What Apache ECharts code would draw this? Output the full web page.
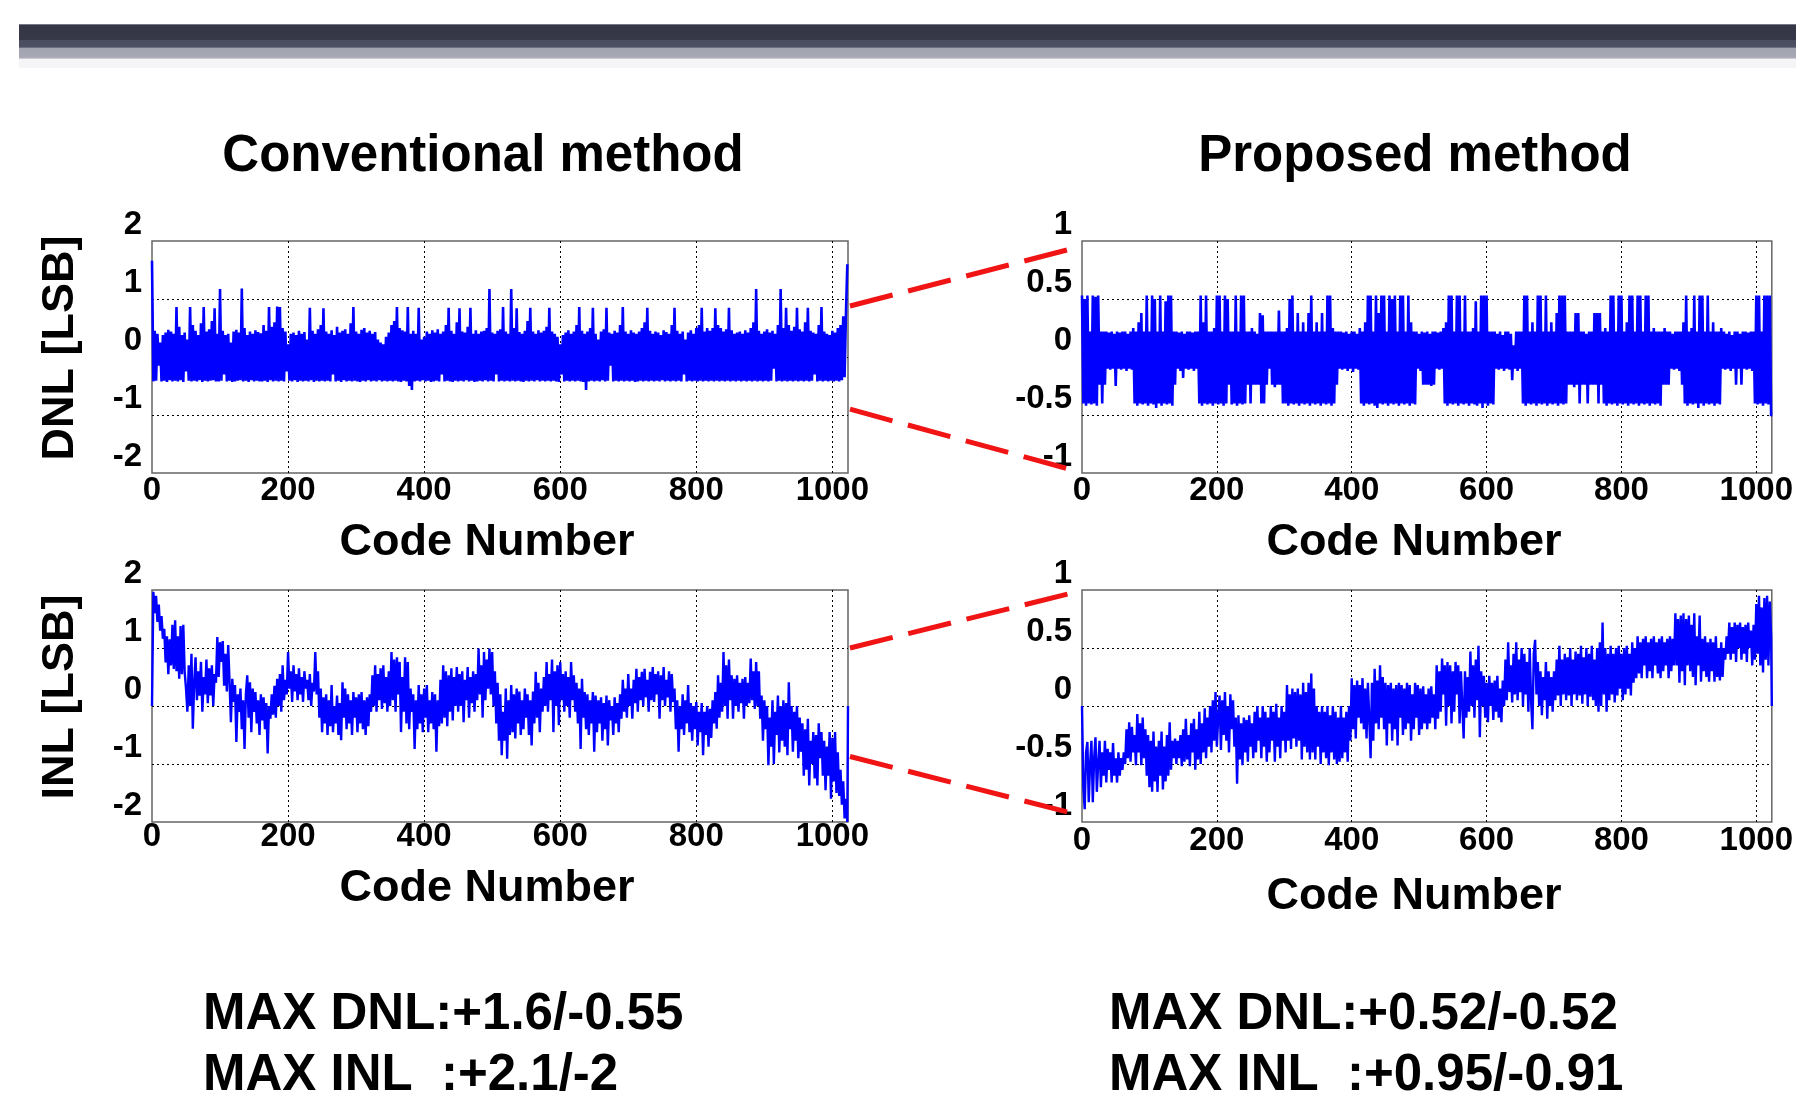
<!DOCTYPE html>
<html><head><meta charset="utf-8">
<script src="https://cdn.jsdelivr.net/npm/echarts@6/dist/echarts.min.js"></script>
<style>html,body{margin:0;padding:0;background:#fff}#c{width:1796px;height:1100px}</style>
</head><body><div id="c"></div>
<script>
// ---------- DATA ----------
const titles = ['Conventional method', 'Proposed method'];
const xName = 'Code Number';
const yNames = ['DNL [LSB]', 'INL [LSB]'];
const summaryLeft = ['MAX DNL:+1.6/-0.55', 'MAX INL  :+2.1/-2'];
const summaryRight = ['MAX DNL:+0.52/-0.52', 'MAX INL  :+0.95/-0.91'];
const codeMax = 1023;
const xTickStep = 200;
const DNL_STEP = 2;   // one value every 2 codes
const INL_STEP = 2;   // one value every 2 codes (last value = code 1023)

// conventional DNL (LSB), codes 0,2,...,1022
const dnlConventional = [
1.66,-0.42,0.45,-0.41,0.40,-0.15,0.25,-0.42,0.38,-0.41,0.42,-0.43,0.47,-0.40,0.44,-0.42,
0.40,-0.41,0.86,-0.42,0.52,-0.40,0.38,-0.43,0.42,-0.25,0.30,-0.41,0.86,-0.42,0.55,-0.41,
0.45,-0.42,0.38,-0.40,0.58,-0.43,0.86,-0.41,0.44,-0.42,0.48,-0.41,0.62,-0.40,0.84,-0.42,
0.40,-0.42,1.17,-0.41,0.45,-0.30,0.38,-0.42,0.40,-0.41,0.25,-0.43,0.44,-0.42,0.47,-0.41,
0.42,-0.40,1.18,-0.42,0.50,-0.41,0.38,-0.43,0.44,-0.40,0.40,-0.42,0.46,-0.41,0.43,-0.42,
0.41,-0.42,0.55,-0.41,0.45,-0.43,0.86,-0.40,0.52,-0.42,0.60,-0.41,0.87,-0.42,0.86,-0.41,
0.50,-0.42,0.44,-0.25,0.22,-0.41,0.40,-0.42,0.42,-0.40,0.38,-0.43,0.45,-0.41,0.40,-0.42,
0.43,-0.41,0.30,-0.42,0.85,-0.40,0.45,-0.43,0.40,-0.41,0.48,-0.42,0.55,-0.41,0.84,-0.42,
0.44,-0.41,0.40,-0.42,0.46,-0.30,0.38,-0.42,0.52,-0.41,0.42,-0.43,0.45,-0.40,0.48,-0.42,
0.40,-0.41,0.58,-0.42,0.86,-0.41,0.44,-0.42,0.40,-0.43,0.47,-0.41,0.50,-0.42,0.42,-0.40,
0.45,-0.42,0.40,-0.41,0.43,-0.42,0.30,-0.40,0.25,-0.42,0.22,-0.41,0.35,-0.42,0.42,-0.41,
0.55,-0.42,0.62,-0.41,0.86,-0.42,0.50,-0.43,0.46,-0.41,0.44,-0.42,0.86,-0.50,0.40,-0.57,
0.45,-0.42,0.40,-0.41,0.85,-0.42,0.30,-0.40,0.35,-0.42,0.44,-0.41,0.40,-0.43,0.46,-0.42,
0.42,-0.41,0.48,-0.42,0.40,-0.30,0.44,-0.42,0.55,-0.41,0.85,-0.42,0.45,-0.43,0.40,-0.41,
0.60,-0.42,0.84,-0.41,0.44,-0.42,0.42,-0.40,0.52,-0.42,0.85,-0.41,0.40,-0.43,0.46,-0.42,
0.40,-0.41,0.44,-0.42,0.45,-0.40,0.50,-0.42,1.17,-0.41,0.42,-0.42,0.40,-0.30,0.45,-0.42,
0.48,-0.41,0.86,-0.42,0.44,-0.41,0.40,-0.42,1.17,-0.41,0.50,-0.42,0.84,-0.41,0.43,-0.42,
0.40,-0.43,0.45,-0.41,0.62,-0.42,0.85,-0.41,0.44,-0.42,0.40,-0.40,0.46,-0.42,0.42,-0.41,
0.45,-0.42,0.52,-0.41,0.85,-0.42,0.44,-0.41,0.40,-0.42,0.35,-0.43,0.22,-0.30,0.38,-0.42,
0.42,-0.41,0.46,-0.42,0.40,-0.41,0.44,-0.42,0.55,-0.41,0.86,-0.42,0.45,-0.43,0.40,-0.57,
0.44,-0.42,0.50,-0.41,0.85,-0.42,0.40,-0.41,0.30,-0.42,0.44,-0.40,0.48,-0.42,0.85,-0.41,
0.42,-0.15,0.40,-0.42,0.45,-0.41,0.42,-0.42,0.55,-0.41,0.86,-0.42,0.44,-0.41,0.40,-0.42,
0.46,-0.41,0.42,-0.43,0.40,-0.42,0.44,-0.41,0.50,-0.42,0.60,-0.41,0.85,-0.42,0.45,-0.41,
0.40,-0.42,0.44,-0.41,0.42,-0.42,0.38,-0.40,0.46,-0.42,0.43,-0.41,0.40,-0.42,0.55,-0.41,
0.85,-0.42,0.45,-0.41,0.40,-0.42,0.44,-0.30,0.30,-0.42,0.42,-0.41,0.46,-0.42,0.40,-0.41,
0.50,-0.42,0.55,-0.41,0.85,-0.42,0.44,-0.41,0.50,-0.42,0.45,-0.41,0.50,-0.42,0.84,-0.41,
0.55,-0.42,0.50,-0.41,0.44,-0.42,0.48,-0.41,0.85,-0.42,0.46,-0.41,0.40,-0.42,0.42,-0.41,
0.44,-0.42,0.40,-0.41,0.46,-0.42,0.42,-0.41,0.50,-0.42,0.60,-0.41,1.17,-0.42,0.45,-0.41,
0.40,-0.42,0.44,-0.41,0.48,-0.42,0.42,-0.41,0.45,-0.20,0.40,-0.42,0.55,-0.41,1.17,-0.42,
0.50,-0.41,0.85,-0.42,0.55,-0.41,0.45,-0.42,0.52,-0.41,0.85,-0.42,0.48,-0.41,0.44,-0.42,
0.60,-0.41,0.85,-0.42,0.45,-0.41,0.42,-0.30,0.40,-0.42,0.55,-0.41,0.86,-0.42,0.44,-0.41,
0.40,-0.42,0.38,-0.41,0.45,-0.42,0.42,-0.41,0.50,-0.42,0.55,-0.40,0.70,-0.35,0.75,1.60
];

// proposed DNL (LSB), codes 0,2,...,1022
const dnlProposed = [
0.53,-0.40,0.50,-0.42,0.53,-0.40,0.22,-0.41,0.53,-0.40,0.52,-0.42,0.53,-0.24,0.22,-0.40,
0.22,-0.24,0.22,-0.10,0.21,-0.11,0.22,-0.10,0.20,-0.25,0.22,-0.10,0.21,-0.11,0.22,-0.10,
0.22,-0.12,0.20,-0.10,0.22,-0.11,0.25,-0.40,0.22,-0.42,0.30,-0.40,0.38,-0.41,0.22,-0.40,
0.53,-0.42,0.22,-0.40,0.53,-0.41,0.50,-0.44,0.22,-0.40,0.53,-0.42,0.22,-0.40,0.48,-0.41,
0.53,-0.40,0.53,-0.42,0.22,-0.24,0.22,-0.10,0.21,-0.12,0.22,-0.18,0.20,-0.10,0.22,-0.11,
0.22,-0.10,0.21,-0.12,0.22,-0.10,0.22,-0.40,0.53,-0.42,0.30,-0.40,0.53,-0.41,0.22,-0.40,
0.22,-0.42,0.25,-0.40,0.53,-0.41,0.53,-0.40,0.22,-0.42,0.53,-0.40,0.50,-0.24,0.22,-0.41,
0.22,-0.40,0.53,-0.42,0.22,-0.40,0.53,-0.41,0.53,-0.40,0.22,-0.24,0.22,-0.40,0.25,-0.24,
0.22,-0.24,0.20,-0.24,0.38,-0.40,0.36,-0.40,0.22,-0.24,0.22,-0.10,0.22,-0.24,0.22,-0.26,
0.22,-0.24,0.40,-0.24,0.22,-0.40,0.22,-0.40,0.25,-0.42,0.50,-0.40,0.53,-0.41,0.22,-0.40,
0.38,-0.42,0.22,-0.40,0.30,-0.41,0.22,-0.40,0.38,-0.42,0.53,-0.40,0.22,-0.41,0.30,-0.40,
0.22,-0.42,0.38,-0.40,0.22,-0.41,0.53,-0.40,0.53,-0.42,0.25,-0.40,0.22,-0.24,0.22,-0.10,
0.22,-0.11,0.21,-0.10,0.22,-0.12,0.20,-0.10,0.22,-0.13,0.22,-0.10,0.20,-0.11,0.25,-0.40,
0.22,-0.42,0.30,-0.40,0.53,-0.41,0.53,-0.40,0.22,-0.42,0.53,-0.44,0.38,-0.40,0.53,-0.41,
0.53,-0.40,0.22,-0.42,0.53,-0.40,0.50,-0.41,0.53,-0.40,0.22,-0.42,0.53,-0.40,0.53,-0.41,
0.22,-0.40,0.53,-0.42,0.30,-0.40,0.22,-0.41,0.22,-0.10,0.20,-0.12,0.22,-0.24,0.21,-0.24,
0.22,-0.24,0.20,-0.25,0.22,-0.24,0.22,-0.10,0.21,-0.11,0.22,-0.10,0.25,-0.40,0.30,-0.42,
0.53,-0.40,0.53,-0.41,0.22,-0.40,0.53,-0.42,0.53,-0.40,0.22,-0.41,0.53,-0.40,0.22,-0.42,
0.22,-0.40,0.25,-0.41,0.48,-0.42,0.22,-0.40,0.53,-0.44,0.53,-0.40,0.53,-0.42,0.22,-0.40,
0.22,-0.41,0.22,-0.10,0.20,-0.11,0.22,-0.10,0.19,-0.12,0.22,-0.10,0.22,-0.11,0.20,-0.20,
0.10,-0.10,0.22,-0.12,0.22,-0.10,0.22,-0.40,0.53,-0.42,0.53,-0.40,0.22,-0.41,0.30,-0.40,
0.22,-0.42,0.53,-0.40,0.53,-0.41,0.22,-0.40,0.53,-0.42,0.22,-0.40,0.30,-0.41,0.22,-0.40,
0.38,-0.42,0.53,-0.40,0.53,-0.41,0.53,-0.40,0.22,-0.24,0.22,-0.24,0.22,-0.26,0.38,-0.24,
0.38,-0.40,0.22,-0.24,0.22,-0.24,0.20,-0.40,0.22,-0.24,0.22,-0.24,0.38,-0.24,0.38,-0.40,
0.38,-0.24,0.22,-0.40,0.25,-0.42,0.22,-0.40,0.53,-0.41,0.53,-0.40,0.22,-0.42,0.53,-0.40,
0.53,-0.41,0.22,-0.40,0.30,-0.42,0.53,-0.40,0.53,-0.41,0.22,-0.40,0.53,-0.42,0.53,-0.40,
0.22,-0.41,0.53,-0.40,0.53,-0.42,0.22,-0.40,0.25,-0.41,0.22,-0.40,0.22,-0.42,0.22,-0.24,
0.25,-0.24,0.22,-0.24,0.22,-0.10,0.20,-0.11,0.22,-0.10,0.22,-0.12,0.22,-0.24,0.30,-0.40,
0.53,-0.42,0.22,-0.40,0.25,-0.41,0.53,-0.40,0.22,-0.44,0.53,-0.40,0.53,-0.42,0.22,-0.40,
0.53,-0.41,0.22,-0.40,0.30,-0.42,0.22,-0.40,0.22,-0.41,0.25,-0.10,0.22,-0.11,0.20,-0.10,
0.22,-0.12,0.19,-0.10,0.22,-0.24,0.22,-0.10,0.20,-0.24,0.22,-0.10,0.22,-0.11,0.21,-0.10,
0.22,-0.12,0.22,-0.40,0.53,-0.41,0.53,-0.40,0.22,-0.42,0.53,-0.40,0.53,-0.41,0.53,-0.51
];

// conventional INL (LSB), codes 0,2,...,1022, then 1023
const inlConventional = [
0.00,1.97,1.60,1.90,1.45,1.75,1.30,1.55,1.16,1.33,0.75,1.20,0.55,1.15,0.70,1.40,
0.64,1.48,0.60,1.20,0.47,1.38,0.55,1.40,0.59,0.30,-0.10,0.70,0.00,0.90,-0.39,0.40,
0.84,0.10,0.60,0.18,0.76,-0.10,0.50,0.20,0.80,0.05,0.65,0.18,0.70,0.00,0.55,0.40,
1.19,0.50,1.10,0.76,1.12,0.35,0.90,0.25,1.05,0.40,-0.28,0.47,0.07,0.36,-0.62,0.20,
-0.10,0.30,-0.40,0.10,-0.74,0.20,0.53,-0.20,0.41,-0.45,0.30,-0.10,0.24,-0.30,0.10,-0.50,
0.20,-0.25,0.15,-0.40,0.05,-0.82,0.00,-0.22,0.20,-0.15,0.35,-0.20,0.47,0.00,0.55,-0.10,
0.70,0.10,0.45,0.20,0.93,0.30,0.60,0.07,0.70,0.25,0.55,0.10,0.65,0.20,0.50,0.07,
0.60,0.30,0.45,0.10,0.55,0.00,0.40,0.25,0.93,0.20,0.60,-0.20,0.30,-0.45,0.15,-0.30,
0.20,-0.50,0.10,-0.35,0.36,-0.45,0.00,-0.30,0.18,-0.50,0.05,-0.59,0.41,-0.20,0.30,-0.40,
0.20,-0.30,0.10,-0.50,0.24,-0.20,0.15,-0.45,0.20,-0.30,0.24,-0.40,0.10,-0.50,0.15,-0.35,
0.20,-0.10,0.53,0.00,0.70,-0.10,0.55,0.10,0.65,-0.05,0.70,0.05,0.50,-0.10,0.60,0.00,
0.93,0.10,0.80,-0.10,0.84,0.20,0.76,-0.45,0.50,-0.10,0.84,-0.30,0.76,-0.40,0.30,-0.10,
0.20,-0.74,0.10,-0.40,0.36,-0.30,0.20,-0.45,0.30,-0.20,0.36,-0.45,0.10,-0.30,0.24,-0.40,
0.20,-0.79,0.10,-0.35,0.45,-0.30,0.70,-0.20,0.60,-0.35,0.53,-0.10,0.65,-0.25,0.50,0.00,
0.67,-0.10,0.55,0.00,0.60,-0.28,0.45,0.10,0.67,-0.20,0.50,0.05,0.60,-0.10,0.55,0.10,
0.99,0.20,0.70,-0.20,0.93,0.10,0.80,0.30,0.99,0.20,0.93,0.00,0.60,-0.30,0.40,-0.60,
0.20,-0.85,-0.10,-0.60,0.30,-0.91,0.10,-0.50,0.36,-0.45,0.20,-0.56,0.30,-0.30,0.25,-0.50,
0.10,-0.40,0.30,-0.20,0.20,-0.50,0.10,-0.68,0.25,-0.30,0.59,-0.20,0.40,-0.45,0.30,-0.10,
0.50,0.00,0.76,-0.10,0.55,0.10,0.80,-0.45,0.60,0.00,0.70,-0.33,0.76,0.10,0.55,-0.10,
0.60,0.00,0.50,-0.20,0.76,0.10,0.53,-0.10,0.40,-0.30,0.30,-0.74,0.47,-0.20,0.24,-0.40,
0.20,-0.50,0.10,-0.30,0.24,-0.79,0.18,-0.45,0.10,-0.30,0.15,-0.60,0.05,-0.40,0.18,-0.68,
0.10,-0.25,0.00,-0.50,0.15,-0.30,0.05,-0.45,0.20,-0.22,0.45,-0.10,0.30,-0.20,0.55,0.00,
0.30,-0.22,0.45,0.05,0.64,-0.10,0.50,0.10,0.59,0.00,0.64,0.15,0.45,-0.10,0.59,0.10,
0.67,0.07,0.55,0.20,0.60,-0.22,0.53,0.10,0.67,0.00,0.45,0.15,0.60,-0.10,0.55,0.07,
0.30,-0.40,0.10,-0.79,0.00,-0.40,0.20,-0.50,0.10,-0.30,0.36,-0.45,0.05,-0.60,0.00,-0.40,
0.07,-0.68,-0.10,-0.45,0.05,-0.85,-0.10,-0.50,0.00,-0.70,-0.05,-0.55,0.10,-0.30,0.24,-0.39,
0.53,-0.20,0.40,-0.10,0.93,0.00,0.70,-0.22,0.80,0.10,0.53,-0.22,0.47,0.00,0.53,-0.10,
0.40,0.05,0.47,-0.22,0.50,0.00,0.40,0.05,0.82,0.10,0.60,-0.05,0.76,0.00,0.60,-0.22,
0.18,-0.60,0.10,-0.40,0.00,-1.02,-0.20,-0.70,0.10,-1.00,-0.10,-0.50,0.18,-0.80,0.00,-0.60,
0.10,-0.70,0.05,-0.85,0.41,-0.40,0.00,-0.79,-0.10,-0.60,0.00,-0.90,-0.20,-0.79,-0.30,-1.20,
-0.40,-1.10,-0.22,-1.37,-0.60,-1.00,-0.45,-1.25,-0.50,-1.37,-0.30,-0.90,-0.45,-1.20,-0.60,-1.45,
-0.70,-1.20,-0.45,-1.60,-0.55,-1.30,-0.45,-1.50,-0.80,-1.55,-1.10,-1.70,-1.30,-1.94,-1.60,-2.00,
0.00
];

// proposed INL (LSB), codes 0,2,...,1022, then 1023
const inlProposed = [
0.00,-0.70,-0.89,-0.40,-0.31,-0.83,-0.50,-0.30,-0.83,-0.45,-0.27,-0.74,-0.50,-0.30,-0.70,-0.40,
-0.60,-0.30,-0.66,-0.37,-0.55,-0.40,-0.66,-0.32,-0.60,-0.45,-0.66,-0.40,-0.60,-0.45,-0.55,-0.40,
-0.50,-0.20,-0.45,-0.14,-0.48,-0.18,-0.40,-0.25,-0.51,-0.07,-0.40,-0.15,-0.51,-0.10,-0.45,-0.20,
-0.60,-0.25,-0.70,-0.30,-0.74,-0.22,-0.65,-0.35,-0.74,-0.30,-0.60,-0.22,-0.72,-0.35,-0.65,-0.25,
-0.60,-0.14,-0.55,-0.30,-0.45,-0.28,-0.50,-0.30,-0.45,-0.25,-0.52,-0.20,-0.48,-0.11,-0.46,-0.25,
-0.52,-0.15,-0.40,-0.11,-0.55,-0.20,-0.46,-0.05,-0.50,-0.15,-0.40,-0.02,-0.45,-0.10,-0.35,0.00,
-0.40,0.05,-0.30,0.12,-0.35,-0.10,0.09,-0.38,0.05,-0.25,0.12,-0.30,0.00,-0.40,0.10,-0.20,
0.05,-0.35,-0.10,-0.67,-0.08,-0.46,-0.15,-0.51,-0.10,-0.40,-0.12,-0.48,-0.08,-0.35,-0.15,-0.45,
-0.05,-0.40,0.00,-0.30,-0.10,-0.45,0.00,-0.35,-0.05,-0.48,-0.10,-0.40,0.00,-0.30,-0.05,-0.48,
0.02,-0.35,-0.10,-0.45,0.00,-0.30,-0.05,-0.40,0.18,-0.30,0.10,-0.37,0.15,-0.28,0.12,-0.35,
0.15,-0.30,0.10,-0.46,0.20,-0.35,0.12,-0.40,0.20,-0.46,0.28,-0.40,0.15,-0.46,0.00,-0.35,
-0.05,-0.50,0.00,-0.40,-0.05,-0.45,0.00,-0.51,-0.08,-0.40,0.00,-0.46,-0.05,-0.50,-0.10,-0.48,
0.00,-0.45,-0.10,-0.40,-0.05,-0.48,0.00,-0.30,0.24,-0.20,0.18,-0.28,0.22,-0.10,0.18,-0.15,
0.24,-0.20,0.15,-0.28,0.20,-0.10,-0.45,0.20,-0.30,0.32,-0.15,0.22,-0.20,0.35,-0.10,0.25,
-0.20,0.20,-0.34,0.18,-0.15,0.20,-0.30,0.15,-0.20,0.18,-0.34,0.20,-0.10,0.18,-0.25,0.15,
-0.20,0.20,-0.15,0.18,-0.30,0.10,-0.20,0.20,-0.10,0.18,-0.25,0.15,-0.20,0.17,-0.15,0.10,
-0.20,0.15,-0.15,0.17,-0.10,0.10,-0.20,0.35,-0.11,0.30,-0.05,0.41,0.10,0.35,-0.17,0.38,
0.00,0.35,-0.15,0.30,-0.05,0.38,0.10,0.35,-0.15,0.30,0.00,-0.28,0.30,-0.10,0.25,-0.05,
0.47,0.00,0.35,-0.10,0.40,0.05,0.52,-0.27,0.30,0.00,0.26,-0.10,0.20,-0.14,0.26,0.00,
0.20,-0.12,0.22,-0.05,0.26,-0.10,0.15,-0.14,0.22,0.00,0.40,0.05,0.55,0.12,0.35,0.03,
0.45,0.10,0.55,0.05,0.40,0.12,0.50,0.00,0.45,0.10,0.38,-0.05,0.50,0.05,-0.20,0.45,
0.57,0.10,0.38,0.00,0.30,-0.08,0.25,0.05,0.38,-0.11,0.30,0.00,0.25,-0.05,0.30,0.05,
0.40,0.09,0.52,0.00,0.40,0.10,0.45,0.05,0.42,0.09,0.50,0.00,0.40,0.10,0.47,0.05,
0.45,0.09,0.52,0.02,0.42,0.10,0.50,0.00,0.45,0.08,0.52,0.05,0.40,0.00,0.50,-0.05,
0.55,0.00,0.72,0.10,0.50,-0.05,0.45,0.05,0.52,0.10,0.45,0.03,0.50,0.09,0.52,0.15,
0.45,0.05,0.50,0.10,0.52,0.15,0.45,0.09,0.55,0.20,0.50,0.24,0.60,0.28,0.55,0.24,
0.58,0.35,0.60,0.24,0.55,0.30,0.58,0.24,0.60,0.35,0.55,0.28,0.58,0.24,0.60,0.30,
0.55,0.35,0.58,0.24,0.60,0.30,0.58,0.35,0.80,0.35,0.75,0.20,0.78,0.30,0.80,0.18,
0.75,0.35,0.78,0.30,0.70,0.25,0.80,0.18,0.60,0.35,0.78,0.21,0.58,0.30,0.60,0.25,
0.55,0.21,0.58,0.30,0.55,0.21,0.60,0.25,0.50,0.22,0.55,0.25,0.50,0.40,0.60,0.45,
0.72,0.40,0.68,0.45,0.72,0.38,0.70,0.50,0.72,0.40,0.68,0.45,0.70,0.38,0.72,0.50,
0.65,0.35,0.70,0.40,0.88,0.45,0.95,0.35,0.85,0.29,0.93,0.40,0.95,0.35,0.90,0.60,
0.00
];

// y-axis ranges per panel: [min, max, interval]
const yRanges = [[-2, 2, 1], [-1, 1, 0.5], [-2, 2, 1], [-1, 1, 0.5]];

// zoom guides (red dashed): from panel A at [code, value] to panel B at [code, value]
const zoomLinks = [
  { from: 0, fromPt: [1023, 0.88], to: 1, toPt: [0, 0.94] },
  { from: 0, fromPt: [1023, -0.90], to: 1, toPt: [0, -0.98] },
  { from: 2, fromPt: [1023, 1.00], to: 3, toPt: [0, 0.98] },
  { from: 2, fromPt: [1023, -0.87], to: 3, toPt: [0, -0.93] }
];

// ---------- CHART ----------
const FONT = 'Liberation Sans, Arial, Helvetica, sans-serif';
const toPts = (vals, step) => vals.map((v, i) => [Math.min(i * step, codeMax), v]);

const gridsPos = [
  { left: 152, top: 241, width: 696, height: 232 },
  { left: 1082, top: 241, width: 697, height: 232 },
  { left: 152, top: 590, width: 696, height: 232 },
  { left: 1082, top: 590, width: 697, height: 232 }
];
const xLabelMargin = [1, 1, -2, 2];
const xNameGap = [47, 47, 44, 52];

const dotted = { color: '#000', type: [2, 3], width: 1 };

const option = {
  backgroundColor: '#fff',
  animation: false,
  title: [
    { text: titles[0], left: 483, top: 131, textAlign: 'center', padding: 0,
      textStyle: { fontSize: 51, fontWeight: 'bold', fontFamily: FONT, color: '#000' } },
    { text: titles[1], left: 1415, top: 131, textAlign: 'center', padding: 0,
      textStyle: { fontSize: 51, fontWeight: 'bold', fontFamily: FONT, color: '#000' } },
    { text: summaryLeft[0], left: 203, top: 989, padding: 0,
      textStyle: { fontSize: 51, fontWeight: 'bold', fontFamily: FONT, color: '#000' } },
    { text: summaryLeft[1], left: 203, top: 1050, padding: 0,
      textStyle: { fontSize: 51, fontWeight: 'bold', fontFamily: FONT, color: '#000' } },
    { text: summaryRight[0], left: 1109, top: 989, padding: 0,
      textStyle: { fontSize: 51, fontWeight: 'bold', fontFamily: FONT, color: '#000' } },
    { text: summaryRight[1], left: 1109, top: 1050, padding: 0,
      textStyle: { fontSize: 51, fontWeight: 'bold', fontFamily: FONT, color: '#000' } }
  ],
  grid: gridsPos.map(g => Object.assign({ show: true, borderColor: '#666', borderWidth: 1.5, backgroundColor: '#fff' }, g)),
  xAxis: gridsPos.map((g, i) => ({
    type: 'value', gridIndex: i, min: 0, max: codeMax, interval: xTickStep,
    axisLine: { show: false }, axisTick: { show: false },
    splitLine: { show: true, showMinLine: false, showMaxLine: false, lineStyle: dotted },
    axisLabel: { fontSize: 33, fontWeight: 'bold', fontFamily: FONT, color: '#000', margin: xLabelMargin[i],
      showMaxLabel: false, formatter: v => String(v) },
    name: xName, nameLocation: 'middle', nameGap: xNameGap[i],
    nameTextStyle: { fontSize: 45, fontWeight: 'bold', fontFamily: FONT, color: '#000', padding: [0, 26, 0, 0] }
  })),
  yAxis: gridsPos.map((g, i) => Object.assign({
    type: 'value', gridIndex: i, min: yRanges[i][0], max: yRanges[i][1], interval: yRanges[i][2],
    axisLine: { show: false }, axisTick: { show: false },
    splitLine: { show: true, showMinLine: false, showMaxLine: false, lineStyle: dotted },
    axisLabel: { fontSize: 33, fontWeight: 'bold', fontFamily: FONT, color: '#000', margin: 10, verticalAlign: 'bottom',
      formatter: v => String(v) }
  }, (i % 2 === 0) ? {
    name: yNames[i / 2], nameLocation: 'middle', nameGap: 69,
    nameTextStyle: { fontSize: 45, fontWeight: 'bold', fontFamily: FONT, color: '#000', padding: [0, 0, 0, 18] }
  } : {})),
  series: [
    { name: 'DNL conventional', data: toPts(dnlConventional, DNL_STEP), width: 2.6 },
    { name: 'DNL proposed', data: toPts(dnlProposed, DNL_STEP), width: 2.6 },
    { name: 'INL conventional', data: toPts(inlConventional, INL_STEP), width: 2.4 },
    { name: 'INL proposed', data: toPts(inlProposed, INL_STEP), width: 2.4 }
  ].map((s, i) => ({
    type: 'line', name: s.name, xAxisIndex: i, yAxisIndex: i, data: s.data,
    showSymbol: false, symbol: 'none', sampling: null, z: 3,
    lineStyle: { color: '#0000ff', width: s.width, join: 'miter', miterLimit: 2 }
  }))
};

const chart = echarts.init(document.getElementById('c'), null, { renderer: 'canvas' });
chart.setOption(option);

// decorations: header bar and red zoom guides (positions derived from axes)
const linkEls = zoomLinks.map(l => {
  const p1 = chart.convertToPixel({ gridIndex: l.from }, l.fromPt);
  const p2 = chart.convertToPixel({ gridIndex: l.to }, l.toPt);
  return {
    type: 'line', z: 100,
    shape: { x1: p1[0] + 2, y1: p1[1], x2: p2[0] - 7, y2: p2[1] },
    style: { stroke: '#f01414', lineWidth: 5, lineDash: [44, 16] }
  };
});
chart.setOption({
  graphic: [
    { type: 'rect', z: 50, shape: { x: 19, y: 24, width: 1777, height: 35 },
      style: { fill: { type: 'linear', x: 0, y: 0, x2: 0, y2: 1, colorStops: [
        { offset: 0, color: '#9a9ba6' }, { offset: 0.04, color: '#353746' },
        { offset: 0.44, color: '#363848' }, { offset: 0.47, color: '#4a4c5f' },
        { offset: 0.66, color: '#4d4f62' }, { offset: 0.69, color: '#a2a3b0' },
        { offset: 0.95, color: '#a7a8b4' }, { offset: 1, color: '#d6d6de' } ] } } },
    { type: 'rect', z: 50, shape: { x: 19, y: 59, width: 1777, height: 9 },
      style: { fill: '#f5f5f8' } }
  ].concat(linkEls)
});
</script>
</body></html>
